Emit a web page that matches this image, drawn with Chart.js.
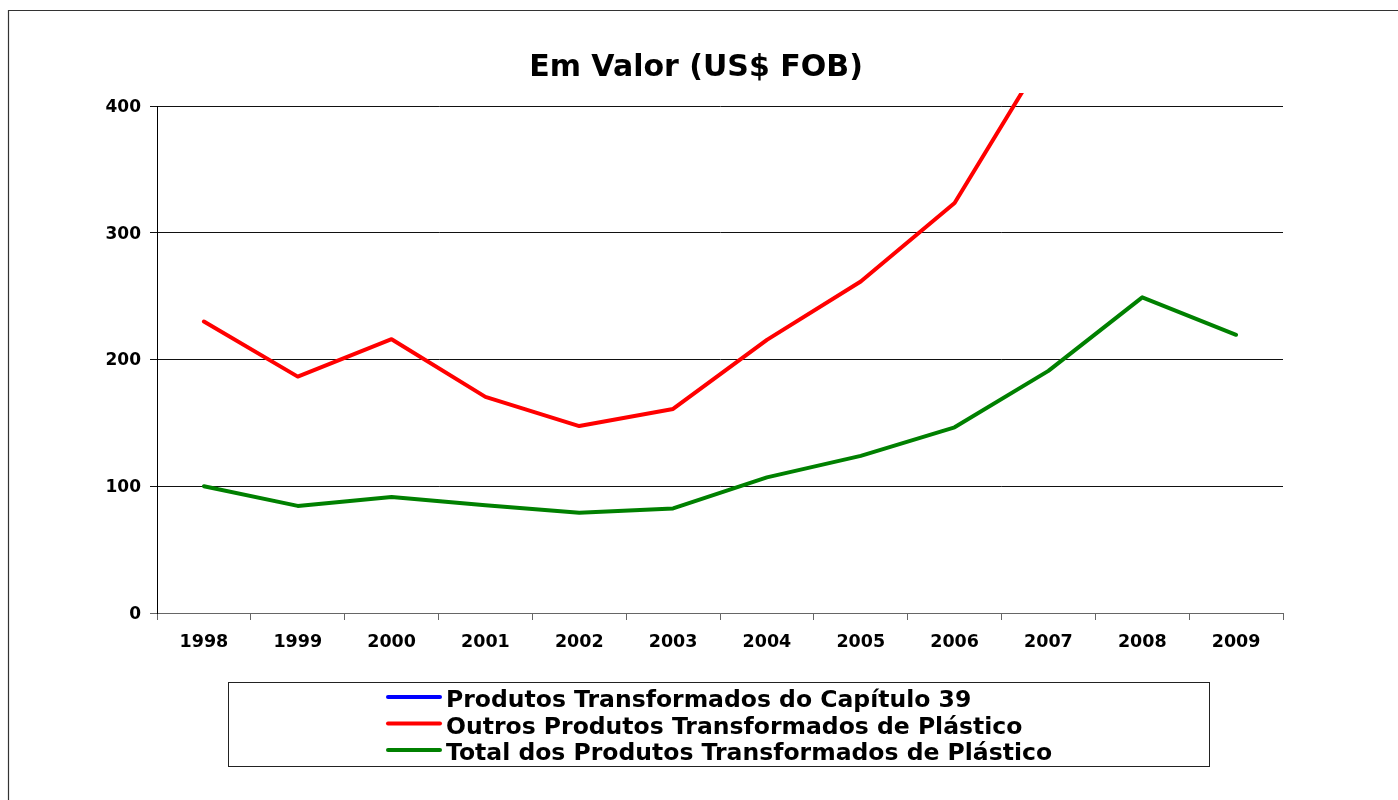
<!DOCTYPE html>
<html>
<head>
<meta charset="utf-8">
<script src="https://cdn.jsdelivr.net/npm/chart.js@4.4.1/dist/chart.umd.min.js"></script>
<style>
  html, body { margin: 0; padding: 0; background: #ffffff; }
  #wrap { width: 1398px; height: 800px; position: relative; }
</style>
</head>
<body>
<div id="wrap"><canvas id="c" width="1398" height="800"></canvas></div>
<script>
// ---- data ----
const chartTitle = 'Em Valor (US$ FOB)';
const categories = ['1998', '1999', '2000', '2001', '2002', '2003', '2004', '2005', '2006', '2007', '2008', '2009'];
const seriesNames = [
  'Produtos Transformados do Capítulo 39',
  'Outros Produtos Transformados de Plástico',
  'Total dos Produtos Transformados de Plástico'
];
// Blue series: no visible points in the reference (not readable)
const produtosCap39 = [null, null, null, null, null, null, null, null, null, null, null, null];
// Red series: leaves the plot above 400 after 2006 (2008-2009 not visible)
const outrosProdutos = [230, 186.5, 216, 170.5, 147.5, 161, 215.5, 261.5, 323.5, 445, null, null];
const totalProdutos = [100, 84.5, 91.5, 85, 79, 82.5, 107, 124, 146.5, 191, 249, 219.5];
const yTicks = [0, 100, 200, 300, 400];

const FONT = "'DejaVu Sans', Verdana, sans-serif";

const framePlugin = {
  id: 'frame',
  beforeDraw(chart) {
    const ctx = chart.ctx;
    ctx.save();
    ctx.fillStyle = '#ffffff';
    ctx.fillRect(0, 0, chart.width, chart.height);
    ctx.strokeStyle = '#333333';
    ctx.lineWidth = 1.2;
    ctx.beginPath();
    ctx.moveTo(8.5, 800);
    ctx.lineTo(8.5, 10.5);
    ctx.lineTo(1398, 10.5);
    ctx.stroke();
    // title
    ctx.fillStyle = '#000000';
    ctx.font = 'bold 30px ' + FONT;
    ctx.textAlign = 'center';
    ctx.textBaseline = 'alphabetic';
    ctx.fillText(chartTitle, 696, 76);
    ctx.restore();
  },
  afterDraw(chart) {
    const ctx = chart.ctx;
    ctx.save();
    // legend box
    ctx.strokeStyle = '#222222';
    ctx.lineWidth = 1;
    ctx.strokeRect(228.5, 682.5, 981, 84);
    const rowsLine = [697, 723.5, 750];
    const rowsText = [707, 733.5, 760];
    chart.data.datasets.forEach((ds, i) => {
      ctx.strokeStyle = ds.borderColor;
      ctx.lineWidth = 4;
      ctx.lineCap = 'round';
      ctx.beginPath();
      ctx.moveTo(388, rowsLine[i]);
      ctx.lineTo(440, rowsLine[i]);
      ctx.stroke();
      ctx.fillStyle = '#000000';
      ctx.font = 'bold 23.5px ' + FONT;
      ctx.textAlign = 'left';
      ctx.textBaseline = 'alphabetic';
      ctx.fillText(ds.label, 446, rowsText[i]);
    });
    ctx.restore();
  }
};

const lineStyle = (color) => ({
  borderColor: color,
  backgroundColor: color,
  borderWidth: 4,
  pointRadius: 0,
  pointHoverRadius: 0,
  tension: 0,
  fill: false,
  borderJoinStyle: 'round',
  borderCapStyle: 'round',
  clip: { left: 10, top: 13, right: 10, bottom: 10 }
});

new Chart(document.getElementById('c'), {
  type: 'line',
  data: {
    labels: categories,
    datasets: [
      Object.assign({ label: seriesNames[0], data: produtosCap39, order: 2 }, lineStyle('#0000FF')),
      Object.assign({ label: seriesNames[1], data: outrosProdutos, order: 1 }, lineStyle('#FF0000')),
      Object.assign({ label: seriesNames[2], data: totalProdutos, order: 0 }, lineStyle('#008000'))
    ]
  },
  options: {
    responsive: false,
    animation: false,
    devicePixelRatio: 1,
    layout: { padding: { left: 0, right: 115, top: 106, bottom: 127 } },
    plugins: {
      legend: { display: false },
      title: { display: false },
      tooltip: { enabled: false }
    },
    scales: {
      x: {
        type: 'category',
        offset: true,
        grid: {
          offset: true,
          drawOnChartArea: false,
          drawTicks: true,
          tickLength: 7,
          color: '#666666',
          lineWidth: 1
        },
        border: { display: true, color: '#666666', width: 1 },
        ticks: {
          color: '#000000',
          font: { family: FONT, size: 17.5, weight: 'bold' },
          padding: 12,
          maxRotation: 0,
          autoSkip: false
        },
        afterFit(scale) { scale.height = 60; }
      },
      y: {
        min: 0,
        max: 400,
        afterBuildTicks(scale) { scale.ticks = yTicks.map(v => ({ value: v })); },
        grid: {
          color: (c) => c.tick && c.tick.value === 0 ? '#666666' : '#111111',
          lineWidth: 1,
          drawTicks: true,
          tickLength: 7
        },
        border: { display: true, color: '#000000', width: 1 },
        ticks: {
          color: '#000000',
          font: { family: FONT, size: 17, weight: 'bold' },
          padding: 9,
          labelOffset: 1.5
        },
        afterFit(scale) { scale.width = 157; }
      }
    }
  },
  plugins: [framePlugin]
});
</script>
</body>
</html>
